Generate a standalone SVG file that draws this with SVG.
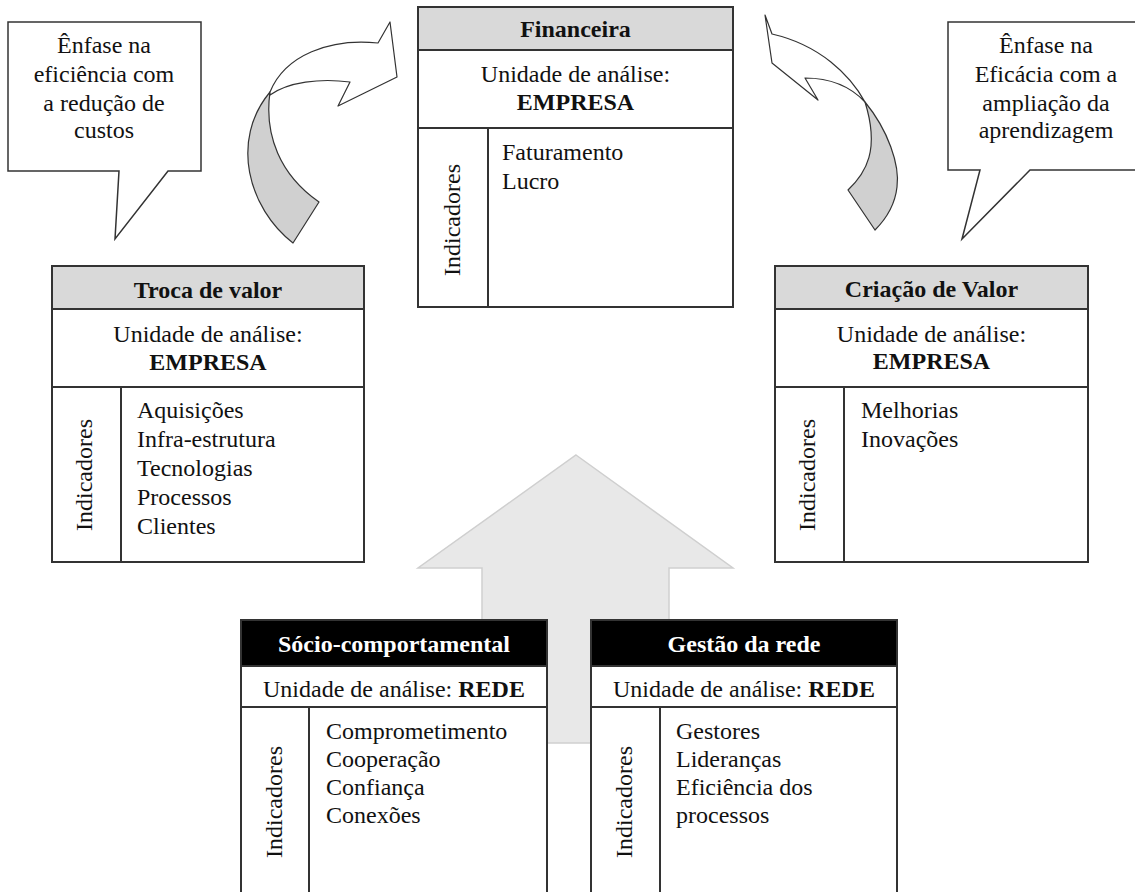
<svg xmlns="http://www.w3.org/2000/svg" width="1135" height="892" viewBox="0 0 1135 892" font-family="'Liberation Serif', 'DejaVu Serif', serif">
<style>
text{font-family:'Liberation Serif','DejaVu Serif',serif;font-size:24px;fill:#111}
.b{font-weight:bold}
.c{text-anchor:middle}
.w{fill:#fff}
.box{fill:#fff;stroke:#333;stroke-width:2}
.hg{fill:#d9d9d9;stroke:#333;stroke-width:2}
.hb{fill:#000;stroke:#333;stroke-width:2}
.ln{stroke:#333;stroke-width:2;fill:none}
.call{fill:#fff;stroke:#333;stroke-width:1.5}
.arw{stroke:#333;stroke-width:1.2;stroke-linejoin:round}
</style>
<rect width="1135" height="892" fill="#fff"/>

<g id="connectors">
  <path id="big-arrow" d="M576,455 L733,568 L669,568 L669,743 L482,743 L482,568 L418,568 Z" fill="#e8e8e8" stroke="#cfcfcf" stroke-width="1.5"/>
  <g id="curved-left">
    <path class="arw" fill="#d0d0d0" d="M293,243 C248,208 230,140 270,92 C264,135 280,175 319,202 Z"/>
    <path class="arw" fill="#fff" d="M270,92 C285,55 330,38 378,43 L390,22 L397,77 L338,106 L350,82 C320,78 288,82 270,95 Z"/>
  </g>
  <g id="curved-right">
    <path class="arw" fill="#d0d0d0" d="M865,102 C888,130 900,165 897,187 C895,205 887,218 875,230 L848,190 C866,173 880,150 865,102 Z"/>
    <path class="arw" fill="#fff" d="M865,102 C850,75 820,45 772,34 L765,15 L772,63 L818,100 L805,78 C830,78 850,86 865,102 Z"/>
  </g>
</g>

<g id="callout-left">
  <path class="call" d="M8,22 L201,22 L201,171 L168,171 L115,239 L119,171 L8,171 Z"/>
  <text class="c" x="104" y="53">Ênfase na</text>
  <text class="c" x="104" y="82">eficiência com</text>
  <text class="c" x="104" y="111">a redução de</text>
  <text class="c" x="104" y="138">custos</text>
</g>

<g id="callout-right">
  <path class="call" d="M1140,22 L948,22 L948,170 L980,170 L962,239 L1030,170 L1140,170"/>
  <text class="c" x="1046" y="53">Ênfase na</text>
  <text class="c" x="1046" y="82">Eficácia com a</text>
  <text class="c" x="1046" y="111">ampliação da</text>
  <text class="c" x="1046" y="138">aprendizagem</text>
</g>

<g id="financeira">
  <rect class="box" x="418" y="7" width="315" height="300"/>
  <rect class="hg" x="418" y="7" width="315" height="43"/>
  <line class="ln" x1="418" y1="128" x2="733" y2="128"/>
  <line class="ln" x1="488" y1="128" x2="488" y2="307"/>
  <text class="b c" x="575.5" y="37">Financeira</text>
  <text class="c" x="575.5" y="82">Unidade de análise:</text>
  <text class="b c" x="575.5" y="110">EMPRESA</text>
  <text class="c" transform="translate(460,220) rotate(-90)">Indicadores</text>
  <text x="502" y="160">Faturamento</text>
  <text x="502" y="189">Lucro</text>
</g>

<g id="troca-de-valor">
  <rect class="box" x="52" y="266" width="312" height="296"/>
  <rect class="hg" x="52" y="266" width="312" height="43"/>
  <line class="ln" x1="52" y1="387" x2="364" y2="387"/>
  <line class="ln" x1="121" y1="387" x2="121" y2="562"/>
  <text class="b c" x="208" y="298">Troca de valor</text>
  <text class="c" x="208" y="342">Unidade de análise:</text>
  <text class="b c" x="208" y="370">EMPRESA</text>
  <text class="c" transform="translate(92,475) rotate(-90)">Indicadores</text>
  <text x="137" y="418">Aquisições</text>
  <text x="137" y="447">Infra-estrutura</text>
  <text x="137" y="476">Tecnologias</text>
  <text x="137" y="505">Processos</text>
  <text x="137" y="534">Clientes</text>
</g>

<g id="criacao-de-valor">
  <rect class="box" x="775" y="266" width="313" height="296"/>
  <rect class="hg" x="775" y="266" width="313" height="43"/>
  <line class="ln" x1="775" y1="387" x2="1088" y2="387"/>
  <line class="ln" x1="844" y1="387" x2="844" y2="562"/>
  <text class="b c" x="931.5" y="297">Criação de Valor</text>
  <text class="c" x="931.5" y="342">Unidade de análise:</text>
  <text class="b c" x="931.5" y="369">EMPRESA</text>
  <text class="c" transform="translate(815,475) rotate(-90)">Indicadores</text>
  <text x="861" y="418">Melhorias</text>
  <text x="861" y="447">Inovações</text>
</g>

<g id="socio-comportamental">
  <rect class="box" x="241" y="620" width="306" height="290"/>
  <rect class="hb" x="241" y="620" width="306" height="46"/>
  <line class="ln" x1="241" y1="707" x2="547" y2="707"/>
  <line class="ln" x1="309" y1="707" x2="309" y2="900"/>
  <text class="b c w" x="394" y="652">Sócio-comportamental</text>
  <text class="c" x="394" y="697">Unidade de análise: <tspan class="b">REDE</tspan></text>
  <text class="c" transform="translate(282,802) rotate(-90)">Indicadores</text>
  <text x="326" y="739">Comprometimento</text>
  <text x="326" y="767">Cooperação</text>
  <text x="326" y="795">Confiança</text>
  <text x="326" y="823">Conexões</text>
</g>

<g id="gestao-da-rede">
  <rect class="box" x="591" y="620" width="306" height="290"/>
  <rect class="hb" x="591" y="620" width="306" height="46"/>
  <line class="ln" x1="591" y1="707" x2="897" y2="707"/>
  <line class="ln" x1="660" y1="707" x2="660" y2="900"/>
  <text class="b c w" x="744" y="652">Gestão da rede</text>
  <text class="c" x="744" y="697">Unidade de análise: <tspan class="b">REDE</tspan></text>
  <text class="c" transform="translate(632,802) rotate(-90)">Indicadores</text>
  <text x="676" y="739">Gestores</text>
  <text x="676" y="767">Lideranças</text>
  <text x="676" y="795">Eficiência dos</text>
  <text x="676" y="823">processos</text>
</g>
</svg>
